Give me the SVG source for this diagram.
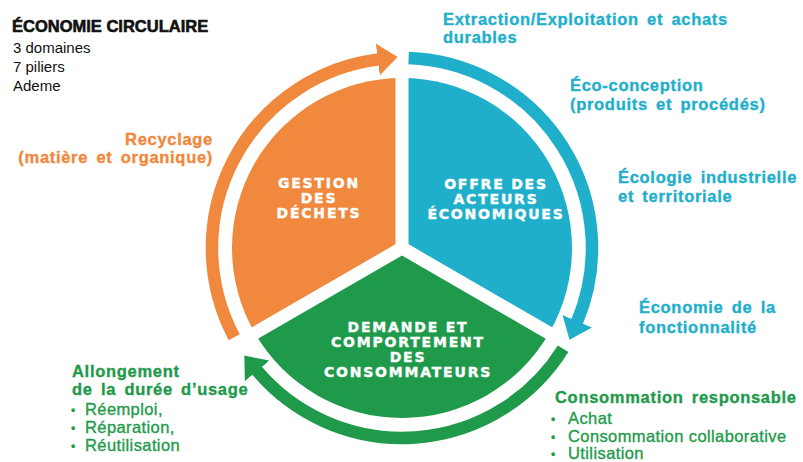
<svg xmlns="http://www.w3.org/2000/svg" width="803" height="462" viewBox="0 0 803 462">
<style>
.title{font-family:"Liberation Sans",Arial,sans-serif;font-weight:bold;font-size:16.5px;fill:#111;stroke:#111;stroke-width:0.6px}
.sub{font-family:"Liberation Sans",Arial,sans-serif;font-size:15px;fill:#111}
.h{font-family:"Liberation Sans",Arial,sans-serif;font-weight:bold;font-size:16.5px;letter-spacing:0.7px;word-spacing:3px;stroke-width:0.35px}
.b{font-family:"Liberation Sans",Arial,sans-serif;font-size:16.5px;letter-spacing:0.4px;stroke-width:0.35px}
.blue{fill:#1FAFCB;stroke:#1FAFCB}
.orange{fill:#F0883D;stroke:#F0883D}
.green{fill:#1F9A4B;stroke:#1F9A4B}
.sec{font-family:"DejaVu Sans",Verdana,sans-serif;font-weight:bold;font-size:14px;letter-spacing:1.8px;fill:#fff;stroke:#fff;stroke-width:0.4px;text-anchor:middle}
.arc{fill:none;stroke-width:12.5}
.gap{stroke:#fff;stroke-width:13;stroke-linecap:butt}
</style>
<defs>
<marker id="mo" viewBox="0 -16 20 32" refX="1" refY="0" markerWidth="20" markerHeight="32" markerUnits="userSpaceOnUse" orient="auto"><path d="M0,-16 L20,0 L0,16 z" fill="#F0883D"/></marker>
<marker id="mb" viewBox="0 -16 20 32" refX="1" refY="0" markerWidth="20" markerHeight="32" markerUnits="userSpaceOnUse" orient="auto"><path d="M0,-16 L20,0 L0,16 z" fill="#1FAFCB"/></marker>
<marker id="mg" viewBox="0 -16 20 32" refX="1" refY="0" markerWidth="20" markerHeight="32" markerUnits="userSpaceOnUse" orient="auto"><path d="M0,-16 L20,0 L0,16 z" fill="#1F9A4B"/></marker>
</defs>
<rect width="803" height="462" fill="#fff"/>

<g id="title">
<text class="title" x="12" y="31.5">ÉCONOMIE CIRCULAIRE</text>
<text class="sub" x="13" y="53">3 domaines</text>
<text class="sub" x="13" y="72">7 piliers</text>
<text class="sub" x="13" y="91">Ademe</text>
</g>

<g id="node-gestion">
<path d="M402,248 L254.78,333 A170,170 0 0 1 402,78 Z" fill="#F0883D"/>
<text class="sec" x="319" y="188">GESTION</text>
<text class="sec" x="319" y="203">DES</text>
<text class="sec" x="319" y="218">DÉCHETS</text>
</g>
<g id="node-offre">
<path d="M402,248 L402,78 A170,170 0 0 1 549.22,333 Z" fill="#1FAFCB"/>
<text class="sec" x="496" y="189">OFFRE DES</text>
<text class="sec" x="496" y="204">ACTEURS</text>
<text class="sec" x="496" y="219">ÉCONOMIQUES</text>
</g>
<g id="node-demande">
<path d="M402,248 L549.22,333 A170,170 0 0 1 254.78,333 Z" fill="#1F9A4B"/>
<text class="sec" x="408" y="332">DEMANDE ET</text>
<text class="sec" x="408" y="347">COMPORTEMENT</text>
<text class="sec" x="408" y="362">DES</text>
<text class="sec" x="408" y="377">CONSOMMATEURS</text>
</g>
<g id="dividers">
<line class="gap" x1="402" y1="248" x2="402" y2="70"/>
<line class="gap" x1="402" y1="248" x2="249" y2="336.5"/>
<line class="gap" x1="402" y1="248" x2="555" y2="336.5"/>
</g>

<g id="connectors">
<path class="arc" stroke="#F0883D" d="M234.2,337.2 A190,190 0 0 1 378.8,59.4" marker-end="url(#mo)"/>
<path class="arc" stroke="#1FAFCB" d="M408.6,58.1 A190,190 0 0 1 576.9,322.2" marker-end="url(#mb)"/>
<path class="arc" stroke="#1F9A4B" d="M563.1,348.7 A190,190 0 0 1 256.5,370.1" marker-end="url(#mg)"/>
</g>

<g id="label-extraction">
<text class="h blue" x="443" y="25">Extraction/Exploitation et achats</text>
<text class="h blue" x="443" y="43">durables</text>
</g>
<g id="label-eco-conception">
<text class="h blue" x="570" y="91">Éco-conception</text>
<text class="h blue" x="570" y="110">(produits et procédés)</text>
</g>
<g id="label-ecologie">
<text class="h blue" x="618" y="183">Écologie industrielle</text>
<text class="h blue" x="618" y="202">et territoriale</text>
</g>
<g id="label-fonctionnalite">
<text class="h blue" x="639" y="313">Économie de la</text>
<text class="h blue" x="639" y="333">fonctionnalité</text>
</g>
<g id="label-recyclage">
<text class="h orange" x="213" y="145" text-anchor="end">Recyclage</text>
<text class="h orange" x="213" y="163" text-anchor="end">(matière et organique)</text>
</g>
<g id="label-allongement">
<text class="h green" x="72" y="377">Allongement</text>
<text class="h green" x="72" y="395">de la durée d’usage</text>
<text class="b green" y="415"><tspan x="71" font-size="12">•</tspan><tspan x="85">Réemploi,</tspan></text>
<text class="b green" y="433"><tspan x="71" font-size="12">•</tspan><tspan x="85">Réparation,</tspan></text>
<text class="b green" y="451"><tspan x="71" font-size="12">•</tspan><tspan x="85">Réutilisation</tspan></text>
</g>
<g id="label-consommation">
<text class="h green" x="555" y="403">Consommation responsable</text>
<text class="b green" y="424"><tspan x="551" font-size="12">•</tspan><tspan x="568">Achat</tspan></text>
<text class="b green" y="442"><tspan x="551" font-size="12">•</tspan><tspan x="568">Consommation collaborative</tspan></text>
<text class="b green" y="459"><tspan x="551" font-size="12">•</tspan><tspan x="568">Utilisation</tspan></text>
</g>
</svg>
